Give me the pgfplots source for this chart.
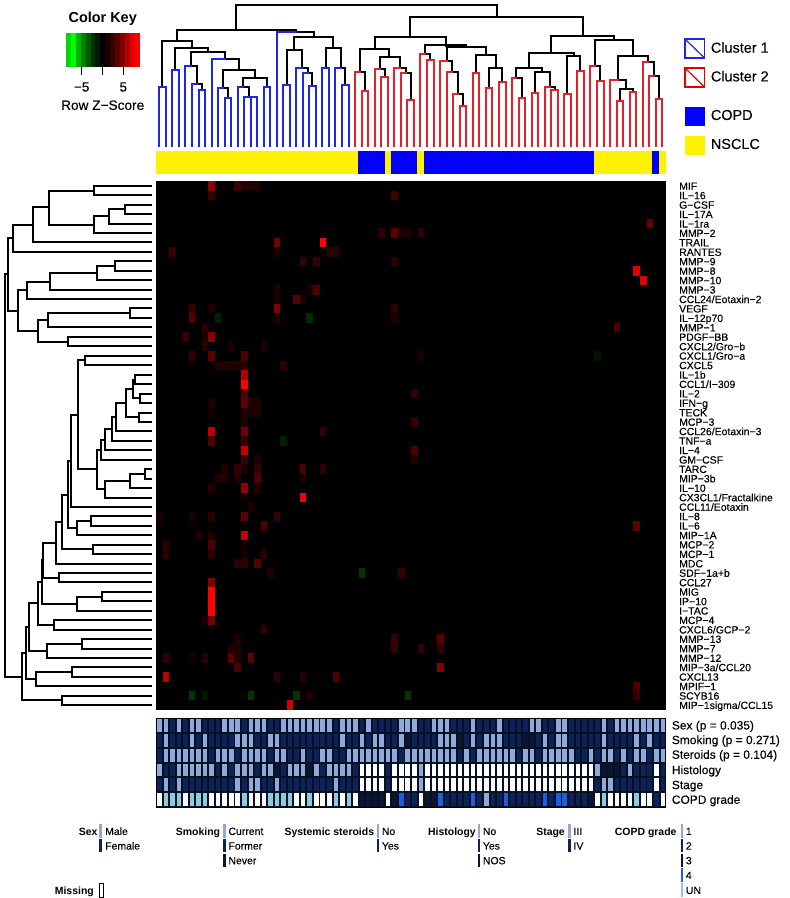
\documentclass[border=0pt]{standalone}
\usepackage{fontspec}
\setmainfont{Liberation Sans}
\newfontfamily\lab[FakeBold=0.2]{Liberation Sans}
\usepackage{pgfplots}
\usepackage{pgfplotstable}
\pgfplotsset{compat=1.18}

\definecolor{treeb}{HTML}{1C28E6}
\definecolor{treer}{HTML}{E6202A}
\definecolor{trkL}{HTML}{8FAAD8}
\definecolor{trkD}{HTML}{0C2258}
\definecolor{trkK}{HTML}{0A1530}
\definecolor{trkC}{HTML}{8CCBDC}
\definecolor{trkB}{HTML}{1A5FDC}

% cell sizes in px, page is 790x898 bp
\pgfdeclareplotmark{cell}{\pgfpathrectangle{\pgfqpoint{-3.27bp}{-4.72bp}}{\pgfqpoint{6.54bp}{9.44bp}}\pgfusepathqfill}
\pgfdeclareplotmark{keyb}{\pgfpathrectangle{\pgfqpoint{-2.5bp}{-16.8bp}}{\pgfqpoint{5bp}{33.6bp}}\pgfusepathqfill}
\pgfdeclareplotmark{trk}{\pgfpathrectangle{\pgfqpoint{-2.3bp}{-6.4bp}}{\pgfqpoint{4.6bp}{12.8bp}}\pgfusepathqfill}

\tikzset{txt/.style={font=\fontsize{#1}{#1}\selectfont\lab,inner sep=0pt,text height=0.716*#1pt,text depth=0pt}}

\pgfplotsset{
  tree/.style={line width=1.9bp,line cap=rect,line join=miter},
  kA/.style={tree,black,x filter/.expression={150+x/3},y filter/.expression={y/3}},
  bA/.style={tree,treeb,x filter/.expression={150+x/3},y filter/.expression={y/3}},
  rA/.style={tree,treer,x filter/.expression={150+x/3},y filter/.expression={y/3}},
  kB/.style={tree,black,x filter/.expression={410+x/3},y filter/.expression={y/3}},
  rB/.style={tree,treer,x filter/.expression={410+x/3},y filter/.expression={y/3}},
  kC/.style={tree,black,x filter/.expression={x/3},y filter/.expression={175+y/3}},
  kD/.style={tree,black,x filter/.expression={x/3},y filter/.expression={440+y/3}},
}
% black or coloured U of the top tree: style, xl, yl, xr, yr, top
\newcommand{\V}[6]{\addplot[#1] coordinates {(#2,#3)(#2,#6)(#4,#6)(#4,#5)};}
% pair of leaves
\newcommand{\Pa}[4]{\addplot[#1] coordinates {(#2,437)(#2,#4)(#3,#4)(#3,437)};}
% leaf on the left, subtree on the right: colour, black, xleaf, xr, yr, top, stem
\newcommand{\T}[7]{\addplot[#2] coordinates {(#7,#6)(#4,#6)(#4,#5)};\addplot[#1] coordinates {(#3,437)(#3,#6)(#7,#6)};}
% side tree: style, x1, y1, x2, y2, bar
\newcommand{\Hh}[6]{\addplot[#1] coordinates {(#2,#3)(#6,#3)(#6,#5)(#4,#5)};}

% sparse heatmap: column, row, value (-1 green .. 1 red)
\pgfplotstableread{
c r v
8 0 .65
12 0 .35
13 0 .2
14 0 .2
15 0 .2
8 1 .3
36 1 .35
75 4 .5
34 5 .25
36 5 .45
37 5 .2
38 5 .2
40 5 .25
18 6 .55
25 6 1
2 7 .3
18 7 .2
26 7 .25
27 7 .25
22 8 .3
24 8 .3
36 8 .25
73 9 .9
74 10 .9
18 11 .2
23 11 .15
24 11 .4
18 12 .2
21 12 .45
22 12 .2
5 13 .3
8 13 .2
18 13 .6
36 13 .25
5 14 .45
9 14 -.2
18 14 .2
23 14 -.25
36 14 .2
7 15 .25
70 15 .4
4 16 .3
7 16 .2
8 16 .6
7 17 .25
11 17 .2
16 17 .2
67 18 -.15
5 18 .3
8 18 .45
13 18 .4
40 18 .2
9 19 .2
10 19 .2
11 19 .2
12 19 .2
13 19 .25
19 19 .25
13 20 .75
13 21 1
13 22 .4
39 22 .3
8 23 .2
13 23 .45
14 23 .2
15 23 .2
8 24 .15
13 24 .2
14 24 .2
15 24 .2
13 25 .2
39 25 .3
8 26 .8
13 26 .55
25 26 .3
8 27 .4
13 27 .3
19 27 -.2
13 28 .8
39 28 .4
13 29 .3
15 29 .2
39 29 .2
10 30 .2
12 30 .3
13 30 .2
15 30 .3
22 30 .4
25 30 .25
9 31 .2
10 31 .2
12 31 .2
15 31 .4
22 31 .2
8 32 .2
13 32 .65
15 32 .2
13 33 .15
22 33 .95
14 34 .2
0 35 .2
5 35 .2
8 35 .25
13 35 .45
18 35 .3
16 36 .4
73 36 .45
6 37 .2
8 37 .2
13 37 .8
1 38 .25
8 38 .4
13 38 .15
1 39 .25
8 39 .25
13 39 .15
16 39 .25
12 40 .25
13 40 .25
15 40 .45
17 41 .2
31 41 -.3
37 41 .3
8 42 .6
8 43 1
8 44 1
8 45 1
7 46 .2
8 46 .55
16 47 .3
12 48 .2
36 48 .3
43 48 .45
11 49 .2
12 49 .2
36 49 .3
40 49 .3
43 49 .3
1 50 .3
5 50 .15
7 50 .25
11 50 .45
12 50 .2
14 50 .45
12 51 .4
43 51 .6
1 52 .8
18 52 .25
22 52 .25
27 52 .4
73 53 .4
5 54 -.3
7 54 -.15
14 54 -.3
21 54 -.3
23 54 .2
38 54 -.3
73 54 .3
20 55 .85
}\heat

% annotation tracks, one row per column of the heatmap
\pgfplotstableread{
c r0 r1 r2 r3 r4 r5
0 L D D L D W
1 L L L D L C
2 D D L D D C
3 L D L L L C
4 D D L L D W
5 L L L L D C
6 L D L L D C
7 D L L L D C
8 D D D L D W
9 D D L D D W
10 L D L L D W
11 L D L D D W
12 L L D L L W
13 D L L L D C
14 L L L L L W
15 L D L D L W
16 L D L L D W
17 D L D L D C
18 D L L K L C
19 L D L D D C
20 L D D L D C
21 L D D L D W
22 L D L L D W
23 L D D K D C
24 L D D L D W
25 L D L D D W
26 L D L L D W
27 D D D L L C
28 L L D L D W
29 L D L L D C
30 L D L D D W
31 D L L W W K
32 L D L W W K
33 D L L W W K
34 D L L W W K
35 D D L D D W
36 D D L W W K
37 L L D W W B
38 L K L W W D
39 L D L W W D
40 D D L L L W
41 D D L W W K
42 L D L W W K
43 L L L W W B
44 L L L W W D
45 D L L W W D
46 D K D W W D
47 D D L W W D
48 L L D W W B
49 D D L W W D
50 D L L W W L
51 D L L W W D
52 L L L W W D
53 D D L W W B
54 D D L W W D
55 D D D W W D
56 D K L W W D
57 L K L W W D
58 L D D W W D
59 D L L W W B
60 D D L W W D
61 L L L W W B
62 L L L W W B
63 D D L W W D
64 D D D W W D
65 D D D W W D
66 D D L W W K
67 D D D L D W
68 L L L K L C
69 D D L K L W
70 L D D K D W
71 L D L D D W
72 L D D L D W
73 L L L D D C
74 L D L D D W
75 L L D D D W
76 L D L W W D
77 L D L D D W
}\tracks

\pgfplotstableread{
x v
68.5 -.85
73.4 -1
78.3 -.7
83.2 -.5
88.1 -.35
93.0 -.2
97.9 -.1
102.8 0
107.7 .1
112.6 .2
117.5 .35
122.4 .5
127.3 .7
132.2 .9
137.1 1
}\key

\pgfplotsset{
  trackplot/.style={scatter,only marks,scatter src=explicit symbolic,
    scatter/classes={L={mark=trk,trkL},D={mark=trk,trkD},K={mark=trk,trkK},W={mark=trk,white},C={mark=trk,trkC},B={mark=trk,trkB}}},
}

\begin{document}
\begin{tikzpicture}
\useasboundingbox (0,0) rectangle (790bp,898bp);
\begin{axis}[
  at={(0,0)},anchor=south west,
  scale only axis,width=790bp,height=898bp,
  xmin=0,xmax=790,ymin=0,ymax=898,y dir=reverse,
  axis lines=none,clip=false,
  point meta min=-1,point meta max=1,
  colormap={rg}{rgb255=(0,255,0) rgb255=(0,0,0) rgb255=(255,0,0)},
]
% sample annotation bar
\addplot[fill=yellow,draw=none] coordinates {(156,151)(665.7,151)(665.7,173.7)(156,173.7)} -- cycle;
\addplot[fill=blue,draw=none] coordinates {(358.3,151)(384.6,151)(384.6,173.7)(358.3,173.7)} -- cycle;
\addplot[fill=blue,draw=none] coordinates {(390.8,151)(417,151)(417,173.7)(390.8,173.7)} -- cycle;
\addplot[fill=blue,draw=none] coordinates {(423.5,151)(593.5,151)(593.5,173.7)(423.5,173.7)} -- cycle;
\addplot[fill=blue,draw=none] coordinates {(651.7,151)(659,151)(659,173.7)(651.7,173.7)} -- cycle;

% heatmap
\addplot[fill=black,draw=none] coordinates {(156,181)(665.7,181)(665.7,710)(156,710)} -- cycle;
\addplot[scatter,only marks,mark=cell,point meta=explicit] table[x expr=156+6.54*(\thisrow{c}+0.5),y expr=186+9.44*\thisrow{r},meta expr=\thisrow{v}*abs(\thisrow{v})^0.3] {\heat};

% tracks
\addplot[fill=trkK!70!black,draw=black,line width=.8bp] coordinates {(156,718)(665.7,718)(665.7,807)(156,807)} -- cycle;
\addplot[trackplot] table[x expr=156+6.54*(\thisrow{c}+0.5),y expr=725.4,meta=r0] {\tracks};
\addplot[trackplot] table[x expr=156+6.54*(\thisrow{c}+0.5),y expr=740.2,meta=r1] {\tracks};
\addplot[trackplot] table[x expr=156+6.54*(\thisrow{c}+0.5),y expr=755.1,meta=r2] {\tracks};
\addplot[trackplot] table[x expr=156+6.54*(\thisrow{c}+0.5),y expr=769.9,meta=r3] {\tracks};
\addplot[trackplot] table[x expr=156+6.54*(\thisrow{c}+0.5),y expr=784.8,meta=r4] {\tracks};
\addplot[trackplot] table[x expr=156+6.54*(\thisrow{c}+0.5),y expr=799.6,meta=r5] {\tracks};

% top tree, upper part
\V{kA}{258}{90}{1040}{52}{16}
\V{kA}{80}{122}{437}{97}{90}
\V{kA}{780}{112}{1298}{107}{52}
% cluster 1
\V{kA}{37}{262}{126}{143}{122}
\Pa{bA}{28}{48}{262}
\V{kA}{75}{211}{175}{157}{143}
\Pa{bA}{67}{87}{211}
\V{kA}{122}{197}{226}{177}{157}
\T{bA}{kA}{106}{141}{251}{197}{122}
\T{bA}{kA}{126}{156}{270}{251}{141}
\Pa{bA}{146}{165}{270}
\T{bA}{kA}{185}{268}{210}{177}{226}
\V{kA}{218}{263}{316}{233}{210}
\T{bA}{kA}{204}{233}{294}{263}{218}
\Pa{bA}{224}{243}{294}
\V{kA}{280}{262}{350}{260}{233}
\T{bA}{kA}{263}{297}{290}{262}{280}
\T{bA}{kA}{282}{312}{291}{290}{297}
\Pa{bA}{302}{322}{291}
\Pa{bA}{341}{361}{260}
\T{bA}{kA}{380}{492}{110}{97}{437}
\V{kA}{433}{150}{550}{145}{110}
\V{kA}{410}{255}{456}{203}{150}
\Pa{bA}{400}{419}{255}
\T{bA}{kA}{439}{473}{219}{203}{456}
\T{bA}{kA}{458}{487}{258}{219}{473}
\Pa{bA}{478}{497}{258}
\V{kA}{527}{203}{572}{203}{145}
\Pa{bA}{517}{537}{203}
\T{bA}{kA}{556}{586}{256}{203}{572}
\Pa{bA}{576}{596}{256}
% cluster 2
\V{kA}{675}{148}{887}{137}{112}
\V{kA}{630}{217}{718}{171}{148}
\T{rA}{kA}{615}{645}{272}{217}{630}
\Pa{rA}{635}{654}{272}
\V{kA}{689}{208}{749}{204}{171}
\T{rA}{kA}{674}{704}{232}{208}{689}
\Pa{rA}{693}{713}{232}
\T{rA}{kA}{733}{769}{219}{204}{749}
\T{rA}{kA}{752}{782}{301}{219}{769}
\Pa{rA}{772}{792}{301}
\V{kB}{45}{163}{168}{141}{135}
\T{rB}{kB}{31}{60}{180}{163}{45}
\Pa{rB}{51}{71}{180}
\V{kB}{110}{183}{228}{164}{141}
\T{rB}{kB}{90}{127}{217}{183}{110}
\T{rB}{kB}{110}{145}{281}{217}{127}
\T{rB}{kB}{130}{159}{317}{281}{145}
\Pa{rB}{149}{169}{317}
\V{kB}{198}{218}{257}{204}{164}
\Pa{rB}{189}{208}{218}
\V{kB}{237}{263}{277}{247}{204}
\Pa{rB}{228}{247}{263}
\Pa{rB}{267}{287}{247}
\V{kB}{424}{160}{612}{121}{107}
\V{kB}{357}{203}{492}{168}{160}
\V{kB}{319}{233}{396}{216}{203}
\T{rB}{kB}{306}{336}{294}{233}{319}
\Pa{rB}{326}{345}{294}
\V{kB}{375}{278}{419}{262}{216}
\Pa{rB}{365}{385}{278}
\T{rB}{kB}{404}{434}{271}{262}{419}
\Pa{rB}{424}{443}{271}
\V{kB}{472}{281}{511}{213}{168}
\Pa{rB}{463}{483}{281}
\Pa{rB}{502}{522}{213}
\V{kB}{555}{197}{668}{167}{121}
\T{rB}{kB}{541}{571}{243}{197}{555}
\Pa{rB}{561}{581}{243}
\V{kB}{623}{239}{714}{186}{167}
\T{rB}{kB}{600}{648}{268}{239}{623}
\V{kB}{630}{302}{668}{277}{268}
\Pa{rB}{620}{640}{302}
\Pa{rB}{659}{679}{277}
\T{rB}{kB}{698}{731}{227}{186}{714}
\T{rB}{kB}{718}{746}{297}{227}{731}
\Pa{rB}{738}{757}{297}

% left tree, upper rows
\Hh{kC}{453}{33}{453}{61}{281}
\Hh{kC}{453}{89}{453}{118}{376}
\Hh{kC}{376}{103}{453}{146}{326}
\Hh{kC}{326}{124}{453}{174}{283}
\Hh{kC}{281}{47}{283}{149}{148}
\Hh{kC}{148}{97}{453}{202}{100}
\Hh{kC}{100}{150}{453}{230}{38}
\Hh{kC}{453}{259}{453}{287}{345}
\Hh{kC}{345}{273}{453}{315}{291}
\Hh{kC}{291}{295}{453}{344}{151}
\Hh{kC}{151}{320}{453}{372}{80}
\Hh{kC}{453}{400}{453}{428}{390}
\Hh{kC}{390}{414}{453}{457}{143}
\Hh{kC}{453}{485}{453}{514}{205}
\Hh{kC}{143}{436}{205}{500}{114}
\Hh{kC}{80}{346}{114}{468}{55}
\Hh{kC}{38}{190}{55}{407}{23}
\Hh{kC}{23}{298}{65}{1507}{15}
% left tree, lower rows
\Hh{kD}{453}{-252}{453}{-224}{255}
\Hh{kD}{453}{-196}{453}{-167}{405}
\Hh{kD}{453}{-139}{453}{-111}{419}
\Hh{kD}{405}{-181}{419}{-125}{398}
\Hh{kD}{453}{-82}{453}{-54}{418}
\Hh{kD}{398}{-153}{418}{-68}{377}
\Hh{kD}{377}{-110}{453}{-26}{349}
\Hh{kD}{349}{-68}{453}{3}{337}
\Hh{kD}{337}{-33}{453}{31}{316}
\Hh{kD}{316}{-1}{453}{59}{303}
\Hh{kD}{453}{88}{453}{116}{436}
\Hh{kD}{436}{102}{453}{144}{390}
\Hh{kD}{390}{123}{453}{173}{314}
\Hh{kD}{303}{29}{314}{148}{290}
\Hh{kD}{255}{-239}{290}{88}{233}
\Hh{kD}{233}{-75}{453}{201}{213}
\Hh{kD}{453}{229}{453}{258}{273}
\Hh{kD}{273}{243}{453}{286}{230}
\Hh{kD}{213}{63}{230}{265}{205}
\Hh{kD}{453}{314}{453}{343}{279}
\Hh{kD}{205}{164}{279}{328}{187}
\Hh{kD}{187}{246}{453}{371}{169}
\Hh{kD}{453}{399}{453}{427}{177}
\Hh{kD}{169}{308}{177}{413}{130}
\Hh{kD}{453}{456}{453}{484}{307}
\Hh{kD}{307}{470}{453}{512}{230}
\Hh{kD}{130}{360}{230}{491}{125}
\Hh{kD}{453}{541}{453}{569}{162}
\Hh{kD}{125}{425}{162}{555}{114}
\Hh{kD}{453}{597}{453}{626}{246}
\Hh{kD}{246}{612}{453}{654}{141}
\Hh{kD}{114}{490}{141}{633}{86}
\Hh{kD}{453}{682}{453}{711}{215}
\Hh{kD}{215}{697}{453}{739}{109}
\Hh{kD}{86}{561}{109}{718}{79}
\Hh{kD}{453}{767}{453}{795}{187}
\Hh{kD}{79}{640}{187}{781}{65}

% colour key
\addplot[scatter,only marks,mark=keyb,point meta=explicit] table[x=x,y expr=49.9,meta=v] {\key};
\addplot[black,line width=.8bp] coordinates {(66,33)(139.7,33)(139.7,66.7)(66,66.7)} -- cycle;
\addplot[black,line width=1bp] coordinates {(81.7,66.7)(81.7,75.3)};
\addplot[black,line width=1bp] coordinates {(102.3,66.7)(102.3,75.3)};
\addplot[black,line width=1bp] coordinates {(123.3,66.7)(123.3,75.3)};
\node[txt=14.5,font=\fontsize{14.5}{14.5}\selectfont\bfseries,anchor=center] at (102.7,17.5) {Color Key};
\node[txt=13.5,anchor=center] at (81.7,86.7) {−5};
\node[txt=13.5,anchor=center] at (123.3,86.7) {5};
\node[txt=13.7,anchor=center] at (102.7,105) {Row Z−Score};

% cluster and group legend
\addplot[treeb,line width=1.4bp] coordinates {(685,39)(704.5,39)(704.5,58)(685,58)} -- cycle;
\addplot[treeb,line width=1.2bp] coordinates {(685,39)(704.5,58)};
\addplot[red!90!black,line width=1.4bp] coordinates {(685,68)(704.5,68)(704.5,87)(685,87)} -- cycle;
\addplot[red!90!black,line width=1.2bp] coordinates {(685,68)(704.5,87)};
\addplot[fill=blue,draw=none] coordinates {(685,106.7)(705,106.7)(705,126)(685,126)} -- cycle;
\addplot[fill=yellow,draw=none] coordinates {(685,135.7)(705,135.7)(705,155)(685,155)} -- cycle;
\node[txt=14.5,anchor=west] at (710.7,47.5) {Cluster 1};
\node[txt=14.5,anchor=west] at (710.7,76.2) {Cluster 2};
\node[txt=14.5,anchor=west] at (710.7,114.8) {COPD};
\node[txt=14.5,anchor=west] at (710.7,143.8) {NSCLC};

% row labels
\node[txt=10.5,anchor=west] at (679,186) {MIF};
\node[txt=10.5,anchor=west] at (679,195.4) {IL−16};
\node[txt=10.5,anchor=west] at (679,204.9) {G−CSF};
\node[txt=10.5,anchor=west] at (679,214.3) {IL−17A};
\node[txt=10.5,anchor=west] at (679,223.8) {IL−1ra};
\node[txt=10.5,anchor=west] at (679,233.2) {MMP−2};
\node[txt=10.5,anchor=west] at (679,242.6) {TRAIL};
\node[txt=10.5,anchor=west] at (679,252.1) {RANTES};
\node[txt=10.5,anchor=west] at (679,261.5) {MMP−9};
\node[txt=10.5,anchor=west] at (679,271) {MMP−8};
\node[txt=10.5,anchor=west] at (679,280.4) {MMP−10};
\node[txt=10.5,anchor=west] at (679,289.8) {MMP−3};
\node[txt=10.5,anchor=west] at (679,299.3) {CCL24/Eotaxin−2};
\node[txt=10.5,anchor=west] at (679,308.7) {VEGF};
\node[txt=10.5,anchor=west] at (679,318.2) {IL−12p70};
\node[txt=10.5,anchor=west] at (679,327.6) {MMP−1};
\node[txt=10.5,anchor=west] at (679,337) {PDGF−BB};
\node[txt=10.5,anchor=west] at (679,346.5) {CXCL2/Gro−b};
\node[txt=10.5,anchor=west] at (679,355.9) {CXCL1/Gro−a};
\node[txt=10.5,anchor=west] at (679,365.4) {CXCL5};
\node[txt=10.5,anchor=west] at (679,374.8) {IL−1b};
\node[txt=10.5,anchor=west] at (679,384.2) {CCL1/I−309};
\node[txt=10.5,anchor=west] at (679,393.7) {IL−2};
\node[txt=10.5,anchor=west] at (679,403.1) {IFN−g};
\node[txt=10.5,anchor=west] at (679,412.6) {TECK};
\node[txt=10.5,anchor=west] at (679,422) {MCP−3};
\node[txt=10.5,anchor=west] at (679,431.4) {CCL26/Eotaxin−3};
\node[txt=10.5,anchor=west] at (679,440.9) {TNF−a};
\node[txt=10.5,anchor=west] at (679,450.3) {IL−4};
\node[txt=10.5,anchor=west] at (679,459.8) {GM−CSF};
\node[txt=10.5,anchor=west] at (679,469.2) {TARC};
\node[txt=10.5,anchor=west] at (679,478.6) {MIP−3b};
\node[txt=10.5,anchor=west] at (679,488.1) {IL−10};
\node[txt=10.5,anchor=west] at (679,497.5) {CX3CL1/Fractalkine};
\node[txt=10.5,anchor=west] at (679,507) {CCL11/Eotaxin};
\node[txt=10.5,anchor=west] at (679,516.4) {IL−8};
\node[txt=10.5,anchor=west] at (679,525.8) {IL−6};
\node[txt=10.5,anchor=west] at (679,535.3) {MIP−1A};
\node[txt=10.5,anchor=west] at (679,544.7) {MCP−2};
\node[txt=10.5,anchor=west] at (679,554.2) {MCP−1};
\node[txt=10.5,anchor=west] at (679,563.6) {MDC};
\node[txt=10.5,anchor=west] at (679,573) {SDF−1a+b};
\node[txt=10.5,anchor=west] at (679,582.5) {CCL27};
\node[txt=10.5,anchor=west] at (679,591.9) {MIG};
\node[txt=10.5,anchor=west] at (679,601.4) {IP−10};
\node[txt=10.5,anchor=west] at (679,610.8) {I−TAC};
\node[txt=10.5,anchor=west] at (679,620.2) {MCP−4};
\node[txt=10.5,anchor=west] at (679,629.7) {CXCL6/GCP−2};
\node[txt=10.5,anchor=west] at (679,639.1) {MMP−13};
\node[txt=10.5,anchor=west] at (679,648.6) {MMP−7};
\node[txt=10.5,anchor=west] at (679,658) {MMP−12};
\node[txt=10.5,anchor=west] at (679,667.4) {MIP−3a/CCL20};
\node[txt=10.5,anchor=west] at (679,676.9) {CXCL13};
\node[txt=10.5,anchor=west] at (679,686.3) {MPIF−1};
\node[txt=10.5,anchor=west] at (679,695.8) {SCYB16};
\node[txt=10.5,anchor=west] at (679,705.2) {MIP−1sigma/CCL15};

% track labels
\node[txt=12,anchor=west] at (671.7,725.2) {Sex (p = 0.035)};
\node[txt=12,anchor=west] at (671.7,739.8) {Smoking (p = 0.271)};
\node[txt=12,anchor=west] at (671.7,754.5) {Steroids (p = 0.104)};
\node[txt=12,anchor=west] at (671.7,769.8) {Histology};
\node[txt=12,anchor=west] at (671.7,784.8) {Stage};
\node[txt=12,anchor=west] at (671.7,799.5) {COPD grade};

% bottom legends
\addplot[trkL,line width=2.8bp] coordinates {(100.8,824.3)(100.8,837.7)};
\addplot[trkD,line width=2.8bp] coordinates {(100.8,839)(100.8,852.3)};
\addplot[trkL,line width=2.8bp] coordinates {(224.5,824.3)(224.5,837.7)};
\addplot[trkD,line width=2.8bp] coordinates {(224.5,839)(224.5,852.3)};
\addplot[trkK,line width=2.8bp] coordinates {(224.5,854)(224.5,867.3)};
\addplot[trkL,line width=2.8bp] coordinates {(378,824.3)(378,837.7)};
\addplot[trkD,line width=2.8bp] coordinates {(378,839)(378,852.3)};
\addplot[trkL,line width=2.8bp] coordinates {(479,824.3)(479,837.7)};
\addplot[trkD,line width=2.8bp] coordinates {(479,839)(479,852.3)};
\addplot[trkK,line width=2.8bp] coordinates {(479,854)(479,867.3)};
\addplot[trkL,line width=2.8bp] coordinates {(569.2,824.3)(569.2,837.7)};
\addplot[trkD,line width=2.8bp] coordinates {(569.2,839)(569.2,852.3)};
\addplot[trkL,line width=2.8bp] coordinates {(682,824.3)(682,837.7)};
\addplot[trkD,line width=2.8bp] coordinates {(682,839)(682,852.3)};
\addplot[trkK,line width=2.8bp] coordinates {(682,854)(682,867.3)};
\addplot[trkB,line width=2.8bp] coordinates {(682,868.3)(682,881.7)};
\addplot[trkC,line width=2.8bp] coordinates {(682,883.3)(682,896.7)};
\addplot[black,line width=.8bp] coordinates {(99.5,883.5)(103.2,883.5)(103.2,897)(99.5,897)} -- cycle;

\node[txt=10.5,font=\fontsize{10.5}{10.5}\selectfont\bfseries,anchor=east] at (97.7,831.7) {Sex};
\node[txt=10.5,font=\fontsize{10.5}{10.5}\selectfont\bfseries,anchor=east] at (220.3,831.7) {Smoking};
\node[txt=10.5,font=\fontsize{10.5}{10.5}\selectfont\bfseries,anchor=east] at (374.3,831.7) {Systemic steroids};
\node[txt=10.5,font=\fontsize{10.5}{10.5}\selectfont\bfseries,anchor=east] at (476,831.7) {Histology};
\node[txt=10.5,font=\fontsize{10.5}{10.5}\selectfont\bfseries,anchor=east] at (565,831.7) {Stage};
\node[txt=10.5,font=\fontsize{10.5}{10.5}\selectfont\bfseries,anchor=east] at (676.7,831.7) {COPD grade};
\node[txt=10.5,font=\fontsize{10.5}{10.5}\selectfont\bfseries,anchor=east] at (94,890.7) {Missing};
\node[txt=10.5,anchor=west] at (105,831.2) {Male};
\node[txt=10.5,anchor=west] at (105,845.8) {Female};
\node[txt=10.5,anchor=west] at (228.3,831.2) {Current};
\node[txt=10.5,anchor=west] at (228.3,845.8) {Former};
\node[txt=10.5,anchor=west] at (228.3,860.5) {Never};
\node[txt=10.5,anchor=west] at (381.7,831.2) {No};
\node[txt=10.5,anchor=west] at (381.7,845.8) {Yes};
\node[txt=10.5,anchor=west] at (482.7,831.2) {No};
\node[txt=10.5,anchor=west] at (482.7,845.8) {Yes};
\node[txt=10.5,anchor=west] at (482.7,860.5) {NOS};
\node[txt=10.5,anchor=west] at (573.3,831.2) {III};
\node[txt=10.5,anchor=west] at (573.3,845.8) {IV};
\node[txt=10.5,anchor=west] at (685.7,831.2) {1};
\node[txt=10.5,anchor=west] at (685.7,845.8) {2};
\node[txt=10.5,anchor=west] at (685.7,860.5) {3};
\node[txt=10.5,anchor=west] at (685.7,875.2) {4};
\node[txt=10.5,anchor=west] at (685.7,890.2) {UN};
\end{axis}
\end{tikzpicture}
\end{document}
